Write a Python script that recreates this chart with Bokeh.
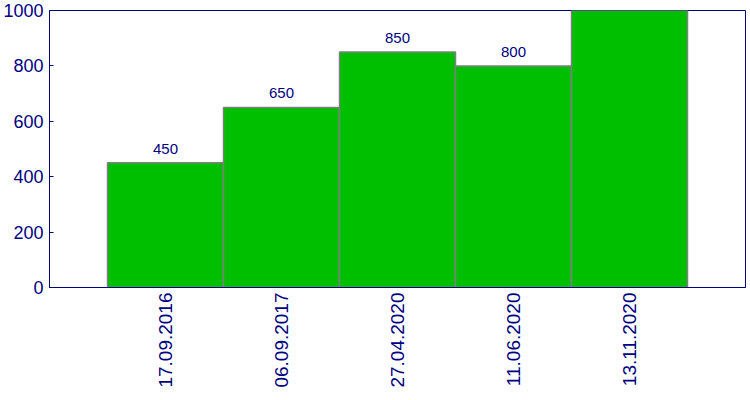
from bokeh.plotting import figure
from bokeh.models import ColumnDataSource, LabelSet, FixedTicker, Range1d
from bokeh.core.properties import value
from bokeh.embed import file_html
from bokeh.resources import INLINE

categories = ["17.09.2016", "06.09.2017", "27.04.2020", "11.06.2020", "13.11.2020"]
values = [450, 650, 850, 800, 1000]
y_ticks = [0, 200, 400, 600, 800, 1000]

positions = list(range(1, len(categories) + 1))
src = ColumnDataSource(dict(x=positions, top=values, lab=[str(v) for v in values]))

NAVY = "#000080"
FONT = "Liberation Sans"

p = figure(width=750, height=400, output_backend="svg", toolbar_location=None,
           x_range=Range1d(0, len(categories) + 1), y_range=Range1d(0, 1000))
p.min_border_left = 49
p.min_border_right = 5
p.min_border_top = 10
p.min_border_bottom = 113
p.background_fill_color = "white"
p.border_fill_color = "white"
p.outline_line_color = NAVY
p.outline_line_width = 1
p.grid.visible = False

p.vbar(x="x", top="top", bottom=0, width=1, source=src,
       fill_color="#00BF00", line_color="#808080", line_width=1.5)

labels = LabelSet(x="x", y="top", text="lab", source=src, text_align="center",
                  text_baseline="bottom", y_offset=9, text_color=NAVY,
                  text_font=value(FONT), text_font_size="15px")
p.add_layout(labels)

p.xaxis.ticker = FixedTicker(ticks=positions)
p.xaxis.major_label_overrides = {i: c for i, c in zip(positions, categories)}
p.xaxis.major_label_orientation = 1.5707963
p.xaxis.major_tick_in = 0
p.xaxis.major_tick_out = 0
p.xaxis.minor_tick_line_color = None
p.xaxis.axis_line_color = NAVY
p.xaxis.major_label_text_color = NAVY
p.xaxis.major_label_text_font = FONT
p.xaxis.major_label_text_font_size = "19px"
p.xaxis.major_label_standoff = 5

p.yaxis.ticker = FixedTicker(ticks=y_ticks)
p.yaxis.major_tick_in = 4
p.yaxis.major_tick_out = 0
p.yaxis.major_tick_line_color = NAVY
p.yaxis.minor_tick_line_color = None
p.yaxis.axis_line_color = NAVY
p.yaxis.major_label_text_color = NAVY
p.yaxis.major_label_text_font = FONT
p.yaxis.major_label_text_font_size = "18px"
p.yaxis.major_label_standoff = 6

open("out.html", "w").write(file_html(p, INLINE))
